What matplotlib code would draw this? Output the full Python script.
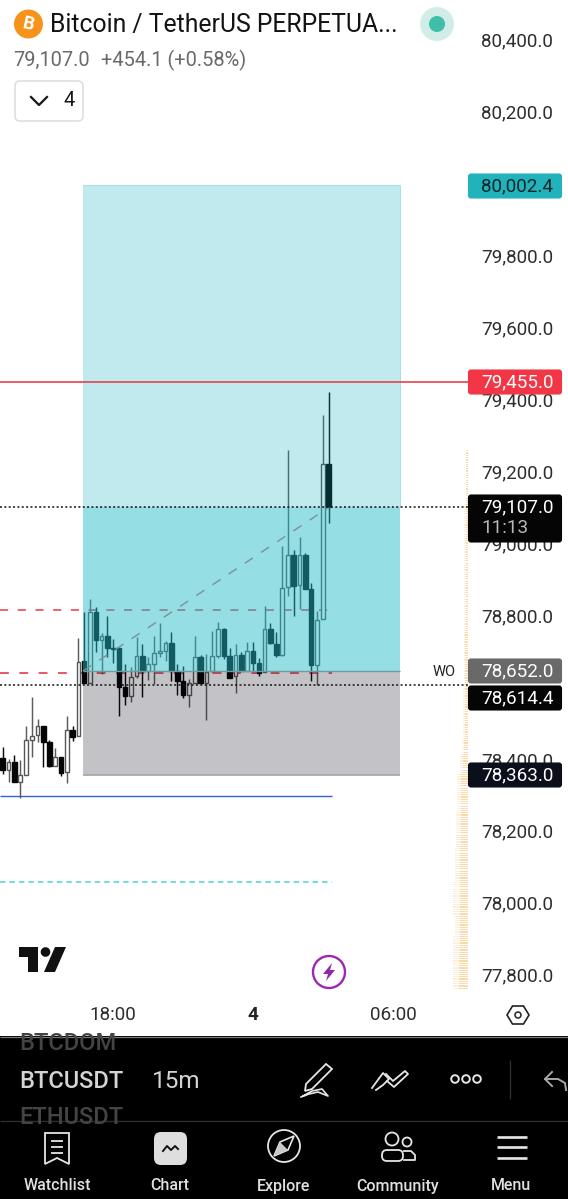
#!/usr/bin/env python
"""TradingView mobile screenshot: BTCUSDT 15m candles with a long position box."""

import matplotlib

matplotlib.use("Agg")
import matplotlib.pyplot as plt
import numpy as np
from matplotlib.patches import Circle, FancyBboxPatch, Polygon, Rectangle

plt.rcParams["font.family"] = ["Roboto", "DejaVu Sans"]

W, H = 568, 1199

# --- data ----------------------------------------------------------------
opens = [78409, 78378, 78398, 78344, 78364, 78461, 78474, 78498, 78456, 78389,
         78414, 78370, 78488, 78472, 78681, 78620, 78817, 78739, 78750, 78717,
         78715, 78608, 78583, 78637, 78695, 78651, 78673, 78702, 78707, 78729,
         78653, 78625, 78585, 78620, 78692, 78620, 78651, 78695, 78769, 78695,
         78637, 78697, 78653, 78708, 78674, 78650, 78769, 78728, 78698, 78886,
         78976, 78890, 78974, 78881, 78668, 78796, 79229]
highs = [78440, 78407, 78418, 78405, 78500, 78579, 78518, 78498, 78461, 78437,
         78414, 78528, 78500, 78743, 78815, 78852, 78829, 78759, 78804, 78741,
         78715, 78671, 78664, 78747, 78727, 78690, 78750, 78787, 78736, 78762,
         78671, 78665, 78630, 78750, 78697, 78699, 78764, 78789, 78771, 78715,
         78727, 78704, 78732, 78734, 78687, 78834, 78785, 78760, 79000, 79266,
         78990, 79025, 78979, 78896, 78819, 79363, 79429]
lows = [78366, 78344, 78344, 78298, 78363, 78412, 78454, 78384, 78386, 78387,
        78361, 78342, 78458, 78472, 78619, 78620, 78704, 78644, 78690, 78674,
        78526, 78558, 78565, 78634, 78579, 78628, 78616, 78690, 78681, 78623,
        78585, 78576, 78551, 78619, 78616, 78517, 78648, 78687, 78685, 78634,
        78591, 78653, 78653, 78653, 78639, 78650, 78727, 78691, 78694, 78862,
        78805, 78825, 78879, 78624, 78612, 78796, 79063]
closes = [78377, 78398, 78344, 78363, 78460, 78472, 78498, 78455, 78389, 78412,
          78368, 78488, 78469, 78678, 78619, 78815, 78739, 78750, 78716, 78714,
          78607, 78583, 78635, 78695, 78653, 78673, 78701, 78707, 78729, 78653,
          78623, 78585, 78620, 78690, 78620, 78648, 78695, 78769, 78695, 78634,
          78696, 78653, 78707, 78674, 78646, 78769, 78730, 78698, 78884, 78976,
          78888, 78974, 78881, 78668, 78794, 79229, 79107]

# 78,600 sits fully behind the price tags in the screenshot
price_ticks = [80400, 80200, 80000, 79800, 79600, 79400, 79200, 79000, 78800,
               78400, 78200, 78000, 77800]
time_labels = ["18:00", "4", "06:00"]

target_price = 80002.4
alert_price = 79455.0
last_price = 79107.0
entry_price = 78652.0
bid_price = 78614.4
stop_price = 78363.0
upper_dash = 78822
entry_dash = 78647
blue_level = 78305
teal_level = 78065

# volume profile: bottom edge of each 50-point band and its width in pixels
profile_floor = [79220, 79170, 79120, 79070, 79020, 78970, 78920, 78870, 78820,
                 78770, 78720, 78670, 78620, 78570, 78520, 78470, 78420, 78370,
                 78320, 78270, 78220, 78170, 78120, 78070, 78020, 77970, 77920,
                 77870, 77820, 77770]
profile_width = [2, 2, 2, 3, 3, 3, 3, 3, 3, 3, 4, 4, 4, 5, 5, 5, 6, 8,
                 11, 11, 12, 12, 13, 13, 14, 14, 13, 14, 15, 15]

# --- px <-> chart scales --------------------------------------------------
PX_PER_POINT = 0.3596
BAR_STEP = 5.82
BAR0_X = 2.7


def price_y(p):
    return 382.3 + (alert_price - p) * PX_PER_POINT


def bar_x(px):
    return (px - BAR0_X) / BAR_STEP


fig = plt.figure(figsize=(W / 100, H / 100), dpi=100, facecolor="white")

ax = fig.add_axes([0, 0, 1, 1])
ax.set_xlim(bar_x(0), bar_x(W))
ax.set_ylim(alert_price - (H - 382.3) / PX_PER_POINT, alert_price + 382.3 / PX_PER_POINT)
ax.axis("off")

ui = fig.add_axes([0, 0, 1, 1], facecolor="none")
ui.set_xlim(0, W)
ui.set_ylim(H, 0)
ui.axis("off")

# --- levels under the candles --------------------------------------------
line_end = bar_x(332)
ax.hlines(upper_dash, bar_x(0), line_end, color="#e8394a", lw=1.1,
          linestyles=[(0, (5.3, 6.3))], zorder=1)
ax.hlines(entry_dash, bar_x(0), line_end, color="#e8394a", lw=1.2,
          linestyles=[(0, (5.3, 6.3))], zorder=1)
ax.hlines(blue_level, bar_x(0), line_end, color="#2f62cc", lw=1.0, zorder=1)
ax.hlines(teal_level, bar_x(0), line_end, color="#4fd2d2", lw=1.1,
          linestyles=[(0, (3.6, 2.6))], zorder=1)

# --- candles ---------------------------------------------------------------
idx = np.arange(len(opens))
for i in idx:
    o, h, l, c = opens[i], highs[i], lows[i], closes[i]
    up = c > o
    wick = "#5c5c5c" if up else "#0a0a0a"
    ax.vlines(i, l, h, color=wick, lw=1.05, zorder=2)
    ax.bar(i, abs(c - o), bottom=min(o, c), width=0.62 if up else 0.78,
           facecolor="white" if up else "#050505",
           edgecolor="#555555" if up else "#050505", lw=1.0, zorder=2.5)

# --- position box, translucent over the candles -----------------------------
box_left, box_right = bar_x(83), bar_x(400)
box_w = box_right - box_left
ax.add_patch(Rectangle((box_left, last_price), box_w, target_price - last_price,
                       facecolor=(0.016, 0.675, 0.737, 0.25), edgecolor="none", zorder=3))
ax.add_patch(Rectangle((box_left, entry_price), box_w, last_price - entry_price,
                       facecolor=(0.122, 0.733, 0.784, 0.48), edgecolor="none", zorder=3))
ax.add_patch(Rectangle((box_left, stop_price), box_w, entry_price - stop_price,
                       facecolor=(0.03, 0.03, 0.09, 0.24), edgecolor="none", zorder=3))
ax.hlines(entry_price, box_left, box_right, color="#6f9ca0", lw=1.0, zorder=3.1)
ax.hlines(stop_price, box_left, box_right, color="#a8a8ac", lw=1.3, zorder=3.1)
ax.hlines(target_price, box_left, box_right, color="#a9e0e5", lw=0.8, zorder=3.1)
ax.vlines(box_right, last_price, target_price, color="#a9e0e5", lw=0.7, zorder=3.1)

# trade path from entry to the last candle
ax.plot([box_left, len(opens) - 1], [entry_price, last_price], color="#7f8f92",
        lw=1.0, ls=(0, (7, 7)), zorder=3.2)

# --- full width levels on top -----------------------------------------------
ax.hlines(alert_price, bar_x(0), bar_x(468), color="#e5323f", lw=1.1, zorder=4)
for lev in (last_price, bid_price):
    ax.hlines(lev, bar_x(0), bar_x(468), color="#111111", lw=1.1,
              linestyles=[(0, (1.3, 1.55))], zorder=4)

# --- volume profile ----------------------------------------------------------
right_edge = bar_x(467.5)
for floor, width in zip(profile_floor, profile_width):
    for row in np.arange(floor, floor + 50, 6.4):
        w = width / BAR_STEP
        ax.barh(row, -w, left=right_edge, height=3.4, color="#fbd9a6", alpha=0.4,
                lw=0, zorder=1.5)
        ax.barh(row, -w * 0.55, left=right_edge, height=3.4, color="#fad08e", alpha=0.65,
                lw=0, zorder=1.6)

# --- price axis --------------------------------------------------------------
for p in price_ticks:
    ui.text(517, price_y(p) - 0.8, f"{p:,.1f}", ha="center", va="center",
            fontsize=13.6, color="#2e2e2e", zorder=2)


def price_tag(top, bottom, color, text, txtcolor="white"):
    ui.add_patch(FancyBboxPatch((469, top + 1.5), 92, bottom - top - 3,
                                boxstyle="round,pad=0,rounding_size=2", mutation_aspect=1,
                                facecolor=color, edgecolor=color, lw=1.5, zorder=3))
    ui.text(517, (top + bottom) / 2, text, ha="center", va="center", fontsize=13.6,
            color=txtcolor, zorder=4)


price_tag(173, 199, "#22b2bc", f"{target_price:,.1f}", "#10272a")
price_tag(369, 395, "#f23645", f"{alert_price:,.1f}")
price_tag(494, 543, "#050505", "")
ui.text(517, 507, f"{last_price:,.1f}", ha="center", va="center", fontsize=13.6,
        color="white", zorder=4)
ui.text(481, 528, "11:13", ha="left", va="center", fontsize=13.6, color="#b8b8b8", zorder=4)
price_tag(658, 684, "#696969", f"{entry_price:,.1f}")
price_tag(685, 711, "#050505", f"{bid_price:,.1f}")
price_tag(762, 788, "#0b0f1c", f"{stop_price:,.1f}")
ui.text(444.5, 672, "WO", ha="center", va="center", fontsize=10.5, color="#222222")

# --- header -------------------------------------------------------------------
ui.add_patch(Circle((28.5, 24), 14.5, facecolor="#f7931a", edgecolor="none"))
ui.text(28.5, 24.5, "B", ha="center", va="center", fontsize=13, fontweight="bold",
        color="white", rotation=-12)
ui.text(49.5, 25, "Bitcoin / TetherUS PERPETUA...", ha="left", va="center",
        fontsize=17.8, color="#131313")
ui.add_patch(Circle((437, 24), 17, facecolor="#d2ece8", edgecolor="none"))
ui.add_patch(Circle((437, 24), 8, facecolor="#3fbfa7", edgecolor="none"))
ui.text(13, 60, "79,107.0", ha="left", va="center", fontsize=14.4, color="#6a6a6a")
ui.text(101, 60, "+454.1 (+0.58%)", ha="left", va="center", fontsize=14.4, color="#6a6a6a")
ui.add_patch(FancyBboxPatch((15, 81), 68, 40, boxstyle="round,pad=0,rounding_size=5",
                            facecolor="white", edgecolor="#dcdcdc", lw=1.1))
ui.plot([31, 39, 47], [97, 105, 97], color="#161616", lw=1.6)
ui.text(69, 100, "4", ha="center", va="center", fontsize=14.5, color="#161616")

# --- logo and lightning ----------------------------------------------------------
ui.add_patch(Polygon([(19, 947), (38, 947), (38, 972), (28, 972), (28, 957), (19, 957)],
                     facecolor="#111111", edgecolor="none"))
ui.add_patch(Circle((45.5, 952), 4.8, facecolor="#111111", edgecolor="none"))
ui.add_patch(Polygon([(55, 947), (66, 947), (55, 972), (44, 972)], facecolor="#111111",
                     edgecolor="none"))
ui.add_patch(Circle((329, 972), 16, facecolor="white", edgecolor="#9c27b0", lw=1.7))
ui.add_patch(Polygon([(332, 963), (323, 974), (328, 974), (326, 981), (335, 970), (330, 970)],
                     facecolor="#8e2aa8", edgecolor="none"))

# --- time axis -------------------------------------------------------------------
ui.text(113, 1015.5, time_labels[0], ha="center", va="center", fontsize=13.6, color="#2e2e2e")
ui.text(253, 1015.5, time_labels[1], ha="center", va="center", fontsize=13.6, fontweight="bold",
        color="#222222")
ui.text(393, 1015.5, time_labels[2], ha="center", va="center", fontsize=13.6, color="#2e2e2e")
ui.add_patch(Polygon([(507, 1015), (512.5, 1006), (523.5, 1006), (529, 1015), (523.5, 1024),
                      (512.5, 1024)], facecolor="white", edgecolor="#222222", lw=1.2))
ui.add_patch(Circle((518, 1015), 3, facecolor="white", edgecolor="#222222", lw=1.1))

# --- bottom bars --------------------------------------------------------------------
ui.add_patch(Rectangle((0, 1036), W, H - 1036, facecolor="black", edgecolor="none", zorder=5))
ui.hlines(1036.5, 0, W, color="#7a7a7a", lw=0.9, zorder=6)
ui.hlines(1120.5, 0, W, color="#2e2e2e", lw=1.0, zorder=6)
clip = Rectangle((0, 1037), 125, 83, transform=ui.transData)
for label, y, col in (("BTCDOM", 1044, "#444444"), ("BTCUSDT", 1081, "#d4d4d4"),
                      ("ETHUSDT", 1117, "#444444")):
    t = ui.text(19, y, label, ha="left", va="center", fontsize=17, fontweight="medium",
                color=col, zorder=7)
    t.set_clip_path(clip)
ui.text(152, 1081, "15m", ha="left", va="center", fontsize=17.5, color="#d4d4d4", zorder=7)

# drawing tools row
white = "#e6e6e6"
ui.add_patch(Polygon([(306, 1084), (326, 1064), (332, 1069), (312, 1089), (305, 1091)],
                     facecolor="none", edgecolor=white, lw=1.3, zorder=7))
ui.plot([301, 309, 318, 328, 322, 312, 303], [1097, 1094, 1092, 1096, 1089, 1091, 1096],
        color=white, lw=1.2, zorder=7)
ui.plot([372, 383, 389, 383, 376], [1088, 1073, 1079, 1085, 1090], color=white, lw=1.3, zorder=7)
ui.plot([386, 393, 405, 408, 394, 387], [1074, 1081, 1071, 1074, 1087, 1081], color=white,
        lw=1.3, zorder=7)
for cx in (455, 466, 477):
    ui.add_patch(Circle((cx, 1079), 3.8, facecolor="none", edgecolor=white, lw=1.4, zorder=7))
ui.vlines(510, 1060, 1099, color="#2e2e2e", lw=1.0, zorder=7)
ui.plot([552, 545, 552], [1072, 1079, 1086], color="#a9a9a9", lw=1.4, zorder=7)
ui.plot([545, 558, 565, 566], [1079, 1079, 1083, 1090], color="#a9a9a9", lw=1.4, zorder=7)

# navigation icons
ui.add_patch(Polygon([(45, 1133), (69, 1133), (69, 1164), (57, 1158), (45, 1164)],
                     facecolor="none", edgecolor=white, lw=1.3, zorder=7))
for y in (1141, 1147, 1153):
    ui.hlines(y, 51, 63, color=white, lw=1.3, zorder=7)
ui.add_patch(FancyBboxPatch((154, 1132), 33, 33, boxstyle="round,pad=0,rounding_size=7",
                            facecolor="#dedede", edgecolor="none", zorder=7))
ui.plot([163, 167, 171, 175, 178], [1151, 1146, 1150, 1146, 1149], color="#111111", lw=1.4,
        zorder=8)
ui.add_patch(Circle((284, 1146), 16, facecolor="none", edgecolor=white, lw=1.3, zorder=7))
ui.add_patch(Polygon([(274, 1156), (280, 1142), (294, 1136), (288, 1150)], facecolor="none",
                     edgecolor=white, lw=1.2, zorder=7))
ui.add_patch(Polygon([(274, 1156), (280, 1142), (288, 1150)], facecolor="#c9c9c9",
                     edgecolor="none", zorder=7))
ui.add_patch(Circle((392, 1139), 6.5, facecolor="none", edgecolor=white, lw=1.3, zorder=7))
ui.add_patch(Circle((407, 1142), 4.5, facecolor="none", edgecolor=white, lw=1.3, zorder=7))
ui.add_patch(FancyBboxPatch((382, 1150), 21, 11, boxstyle="round,pad=0,rounding_size=5",
                            facecolor="none", edgecolor=white, lw=1.3, zorder=7))
ui.plot([404, 411, 415, 415, 404], [1151, 1151, 1155, 1160, 1160], color=white, lw=1.3, zorder=7)
for y in (1137, 1147, 1158):
    ui.hlines(y, 497, 527, color=white, lw=1.9, zorder=7)
for cx, name in zip((57, 170, 284, 398, 511),
                    ("Watchlist", "Chart", "Explore", "Community", "Menu")):
    ui.text(cx, 1186, name, ha="center", va="center", fontsize=11.5, fontweight="medium",
            color="#e0e0e0", zorder=7)

fig.savefig("out.png", dpi=100, facecolor="white")
